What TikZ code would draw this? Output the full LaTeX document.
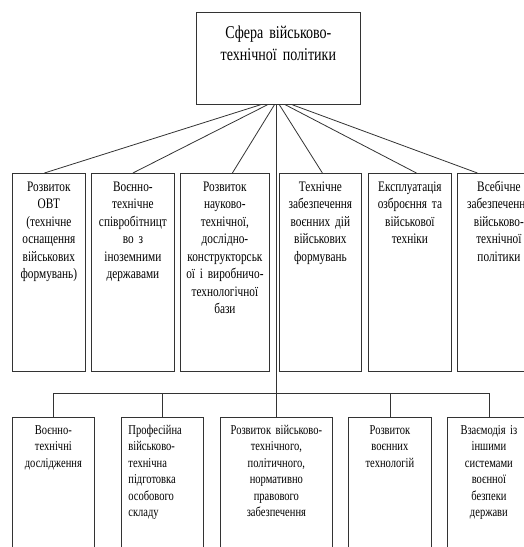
\documentclass[tikz,border=0pt]{standalone}
\usepackage{fontspec}
\setmainfont{Liberation Serif}[FakeStretch=0.78]

\begin{document}
\begin{tikzpicture}[x=1pt, y=-1pt, line width=0.8pt, draw=black!80,
    every node/.style={draw=black!80, anchor=north west, inner xsep=3pt, inner ysep=0pt, align=center},
    topbox/.style={font=\fontsize{18}{22}\selectfont, text height=26pt, text depth=66pt},
    midbox/.style={font=\fontsize{14.5}{17.5}\selectfont, text height=18pt, text depth=180pt},
    lowbox/.style={font=\fontsize{13.5}{16.5}\selectfont, text height=17pt, text depth=140pt}]
        \useasboundingbox (0,0) rectangle (524,547);
        \clip (0,0) rectangle (524,547);

        % Головний блок
        \node (top) at (196,12) [topbox, text width=158pt] {Сфера військово-\\технічної політики};

        % Середній рівень
        \node (m1) at (12,173) [midbox, text width=67pt] {Розвиток\\ОВТ\\(технічне\\оснащення\\військових\\формувань)};
        \node (m2) at (91,173) [midbox, text width=77pt] {Воєнно-\\технічне\\співробітницт\\во з\\іноземними\\державами};
        \node (m3) at (180,173) [midbox, text width=83pt] {Розвиток\\науково-\\технічної,\\дослідно-\\конструкторськ\\ої і виробничо-\\технологічної\\бази};
        \node (m4) at (279,173) [midbox, text width=76pt] {Технічне\\забезпечення\\воєнних дій\\військових\\формувань};
        \node (m5) at (368,173) [midbox, text width=77pt] {Експлуатація\\озброєння та\\військової\\техніки};
        \node (m6) at (457,173) [midbox, text width=77pt] {Всебічне\\забезпечення\\військово-\\технічної\\політики};

        % Нижній рівень
        \node (b1) at (12,417) [lowbox, text width=76pt] {Воєнно-\\технічні\\дослідження};
        \node (b2) at (121,417) [lowbox, align=left, inner xsep=7pt, text width=68pt] {Професійна\\військово-\\технічна\\підготовка\\особового\\складу};
        \node (b3) at (220,417) [lowbox, text width=106pt] {Розвиток військово-\\технічного,\\політичного,\\нормативно\\правового\\забезпечення};
        \node (b4) at (348,417) [lowbox, text width=77pt] {Розвиток\\воєнних\\технологій};
        \node (b5) at (447,417) [lowbox, text width=77pt] {Взаємодія із\\іншими\\системами\\воєнної\\безпеки\\держави};

        % Зв'язки
        \draw ([xshift=-18pt]top.south) -- ([xshift=-4.5pt]m1.north);
        \draw ([xshift=-11pt]top.south) -- (m2.north);
        \draw ([xshift=-4pt]top.south) -- ([xshift=7.5pt]m3.north);
        \draw ([xshift=1pt]top.south) -- ([xshift=2pt]m4.north);
        \draw ([xshift=7pt]top.south) -- ([xshift=6.5pt]m5.north);
        \draw ([xshift=14pt]top.south) -- ([xshift=-21.5pt]m6.north);

        \coordinate (bus) at (275,393);
        \draw (b3.north) -- (b3.north |- top.south);
        \draw (b1.north) -- (b1.north |- bus) -- (b5.north |- bus) -- (b5.north);
        \foreach \n in {b2,b4}
            \draw (\n.north) -- (\n.north |- bus);
\end{tikzpicture}
\end{document}
